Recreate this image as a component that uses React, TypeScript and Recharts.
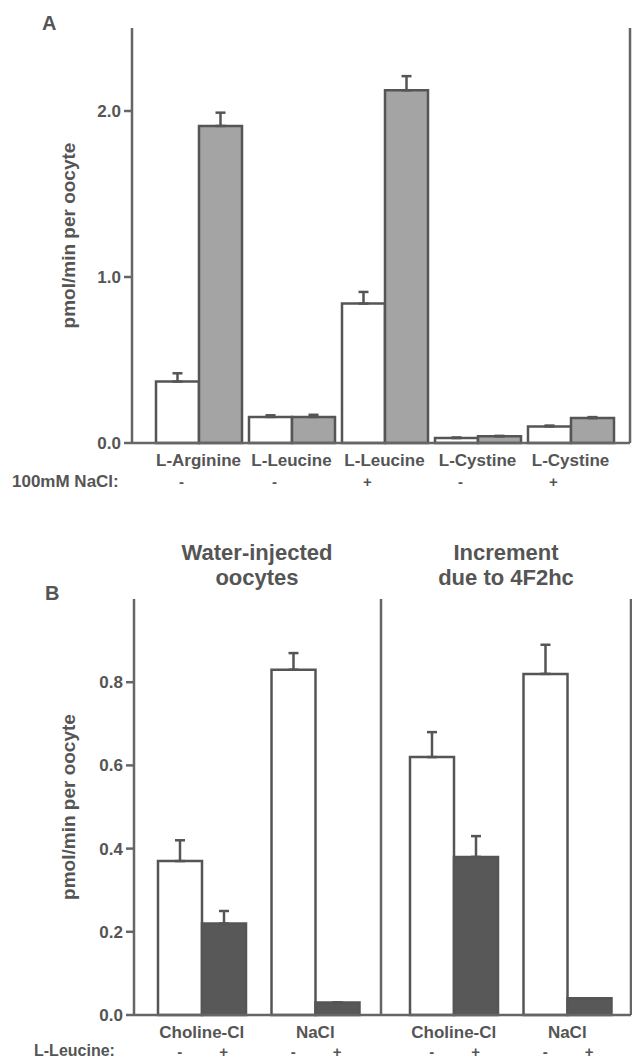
import React from "react";
import { BarChart, Bar, XAxis, YAxis, ErrorBar } from "recharts";

/* ------------------------------------------------------------------ */
/* Data                                                                 */
/* ------------------------------------------------------------------ */

// Panel A: uptake with / without 4F2hc (open vs shaded bars)
const aminoAcids = ["L-Arginine", "L-Leucine", "L-Leucine", "L-Cystine", "L-Cystine"];
const naclSigns = ["-", "-", "+", "-", "+"];
const waterValues = [0.37, 0.157, 0.84, 0.03, 0.1];
const waterErr = [0.05, 0.01, 0.07, 0.003, 0.005];
const cRnaValues = [1.91, 0.157, 2.125, 0.04, 0.15];
const cRnaErr = [0.08, 0.013, 0.085, 0.003, 0.006];

// Panel B: leucine inhibition, two sections
const mediumLabels = ["Choline-Cl", "NaCl"];
const leucineSigns = ["-", "+"];
const waterNoLeu = [0.37, 0.83];
const waterNoLeuErr = [0.05, 0.04];
const waterLeu = [0.22, 0.03];
const waterLeuErr = [0.03, 0];
const incNoLeu = [0.62, 0.82];
const incNoLeuErr = [0.06, 0.07];
const incLeu = [0.38, 0.04];
const incLeuErr = [0.05, 0];

const ticksA = [0, 1, 2];
const ticksB = [0, 0.2, 0.4, 0.6, 0.8];

/* ------------------------------------------------------------------ */

const INK = "#555";
const FRAME = "#666";
const FONT = "'Liberation Sans', Arial, Helvetica, sans-serif";
const LW = 2.5;

const panelA = aminoAcids.map((name, i) => ({
  name,
  water: waterValues[i],
  waterErr: [0, waterErr[i]],
  crna: cRnaValues[i],
  crnaErr: [0, cRnaErr[i]],
}));

const sectionData = (noLeu: number[], noLeuErr: number[], leu: number[], leuErr: number[]) =>
  mediumLabels.map((name, i) => ({
    name,
    minus: noLeu[i],
    minusErr: [0, noLeuErr[i]],
    plus: leu[i],
    plusErr: [0, leuErr[i]],
  }));

const panelB1 = sectionData(waterNoLeu, waterNoLeuErr, waterLeu, waterLeuErr);
const panelB2 = sectionData(incNoLeu, incNoLeuErr, incLeu, incLeuErr);

const textStyle = { fontFamily: FONT, fontWeight: 700, fill: INK } as const;

function NaclTick(props: any) {
  const { x, y, payload, index } = props;
  return (
    <g>
      <text x={x} y={y + 23} textAnchor="middle" fontSize={17} {...textStyle}>
        {payload.value}
      </text>
      <text x={x - 17} y={y + 44} textAnchor="middle" fontSize={15} {...textStyle}>
        {naclSigns[index]}
      </text>
    </g>
  );
}

function LeucineTick(props: any) {
  const { x, y, payload } = props;
  return (
    <g>
      <text x={x} y={y + 23} textAnchor="middle" fontSize={17} {...textStyle}>
        {payload.value}
      </text>
      <text x={x - 22} y={y + 42} textAnchor="middle" fontSize={15} {...textStyle}>
        {leucineSigns[0]}
      </text>
      <text x={x + 22} y={y + 42} textAnchor="middle" fontSize={15} {...textStyle}>
        {leucineSigns[1]}
      </text>
    </g>
  );
}

function YTitle(props: any) {
  const { viewBox, dy = 0 } = props;
  const cx = 68;
  const cy = viewBox.y + viewBox.height / 2 + dy;
  return (
    <text
      x={cx}
      y={cy}
      transform={`rotate(-90 ${cx} ${cy})`}
      textAnchor="middle"
      dominantBaseline="central"
      fontSize={19}
      {...textStyle}
    >
      pmol/min per oocyte
    </text>
  );
}

const axisLine = { stroke: FRAME, strokeWidth: LW };
const tickFont = { fontSize: 17, fontFamily: FONT, fontWeight: 700, fill: INK };

function ChartA() {
  return (
    <BarChart
      width={632}
      height={500}
      data={panelA}
      margin={{ top: 28, right: 0, bottom: 0, left: 0 }}
      barCategoryGap={4}
      barGap={0}
    >
      <XAxis
        xAxisId="b"
        dataKey="name"
        height={57}
        interval={0}
        padding={{ left: 20, right: 13 }}
        axisLine={axisLine}
        tickLine={false}
        tickSize={0}
        tickMargin={0}
        tick={<NaclTick />}
      />
      <XAxis xAxisId="t" dataKey="name" orientation="top" height={0} axisLine={axisLine} tick={false} tickLine={false} />
      <YAxis
        yAxisId="l"
        width={132}
        domain={[0, 2.5]}
        ticks={ticksA}
        tickFormatter={(v) => Number(v).toFixed(1)}
        axisLine={axisLine}
        tickLine={{ stroke: FRAME, strokeWidth: LW }}
        tickSize={8}
        tickMargin={3}
        tick={tickFont}
        label={<YTitle dy={0} />}
      />
      <YAxis yAxisId="r" orientation="right" width={2} domain={[0, 2.5]} axisLine={axisLine} tick={false} tickLine={false} />
      <Bar xAxisId="b" yAxisId="l" dataKey="water" fill="#fff" stroke={INK} strokeWidth={LW} isAnimationActive={false}>
        <ErrorBar dataKey="waterErr" width={5} stroke={INK} strokeWidth={LW} direction="y" isAnimationActive={false} />
      </Bar>
      <Bar xAxisId="b" yAxisId="l" dataKey="crna" fill="#a4a4a4" stroke={INK} strokeWidth={LW} isAnimationActive={false}>
        <ErrorBar dataKey="crnaErr" width={5} stroke={INK} strokeWidth={LW} direction="y" isAnimationActive={false} />
      </Bar>
    </BarChart>
  );
}

function SectionChart({ data, first }: { data: any[]; first: boolean }) {
  return (
    <BarChart
      width={first ? 381 : 253}
      height={503}
      data={data}
      margin={{ top: 39, right: 0, bottom: 0, left: 0 }}
      barSize={44}
      barGap={0}
    >
      <XAxis
        xAxisId="b"
        dataKey="name"
        height={48}
        interval={0}
        padding={first ? { left: 11, right: 9 } : { left: 16, right: 7 }}
        axisLine={axisLine}
        tickLine={false}
        tickSize={0}
        tickMargin={0}
        tick={<LeucineTick />}
      />
      <XAxis xAxisId="t" dataKey="name" orientation="top" height={0} axisLine={axisLine} tick={false} tickLine={false} />
      {first ? (
        <YAxis
          yAxisId="l"
          width={134}
          domain={[0, 1]}
          ticks={ticksB}
          tickFormatter={(v) => Number(v).toFixed(1)}
          axisLine={axisLine}
          tickLine={{ stroke: FRAME, strokeWidth: LW }}
          tickSize={8}
          tickMargin={3}
          tick={tickFont}
          label={<YTitle dy={0} />}
        />
      ) : (
        <YAxis yAxisId="l" width={2} domain={[0, 1]} axisLine={axisLine} tick={false} tickLine={false} />
      )}
      {!first && (
        <YAxis yAxisId="r" orientation="right" width={1} domain={[0, 1]} axisLine={axisLine} tick={false} tickLine={false} />
      )}
      <Bar xAxisId="b" yAxisId="l" dataKey="minus" fill="#fff" stroke={INK} strokeWidth={LW} isAnimationActive={false}>
        <ErrorBar dataKey="minusErr" width={5} stroke={INK} strokeWidth={LW} direction="y" isAnimationActive={false} />
      </Bar>
      <Bar xAxisId="b" yAxisId="l" dataKey="plus" fill="#585858" stroke={INK} strokeWidth={LW} isAnimationActive={false}>
        <ErrorBar dataKey="plusErr" width={5} stroke={INK} strokeWidth={LW} direction="y" isAnimationActive={false} />
      </Bar>
    </BarChart>
  );
}

export default function App() {
  return (
    <div style={{ position: "absolute", left: 0, top: 0, width: 632, height: 1063, background: "#fff", overflow: "hidden" }}>
      <div style={{ position: "absolute", left: 0, top: 0 }}>
        <ChartA />
      </div>
      <div style={{ position: "absolute", left: 0, top: 560 }}>
        <SectionChart data={panelB1} first />
      </div>
      <div style={{ position: "absolute", left: 379, top: 560 }}>
        <SectionChart data={panelB2} first={false} />
      </div>
      <svg width={632} height={1063} style={{ position: "absolute", left: 0, top: 0, pointerEvents: "none" }}>
        <text x={42} y={30} fontSize={20} {...textStyle}>A</text>
        <text x={12} y={487} fontSize={17} {...textStyle}>100mM NaCl:</text>
        <text x={45} y={600} fontSize={20} {...textStyle}>B</text>
        <text x={257} y={560} textAnchor="middle" fontSize={22} {...textStyle}>Water-injected</text>
        <text x={257} y={585} textAnchor="middle" fontSize={22} {...textStyle}>oocytes</text>
        <text x={506} y={560} textAnchor="middle" fontSize={22} {...textStyle}>Increment</text>
        <text x={506} y={585} textAnchor="middle" fontSize={22} {...textStyle}>due to 4F2hc</text>
        <text x={34} y={1056} fontSize={16} {...textStyle}>L-Leucine:</text>
      </svg>
    </div>
  );
}
